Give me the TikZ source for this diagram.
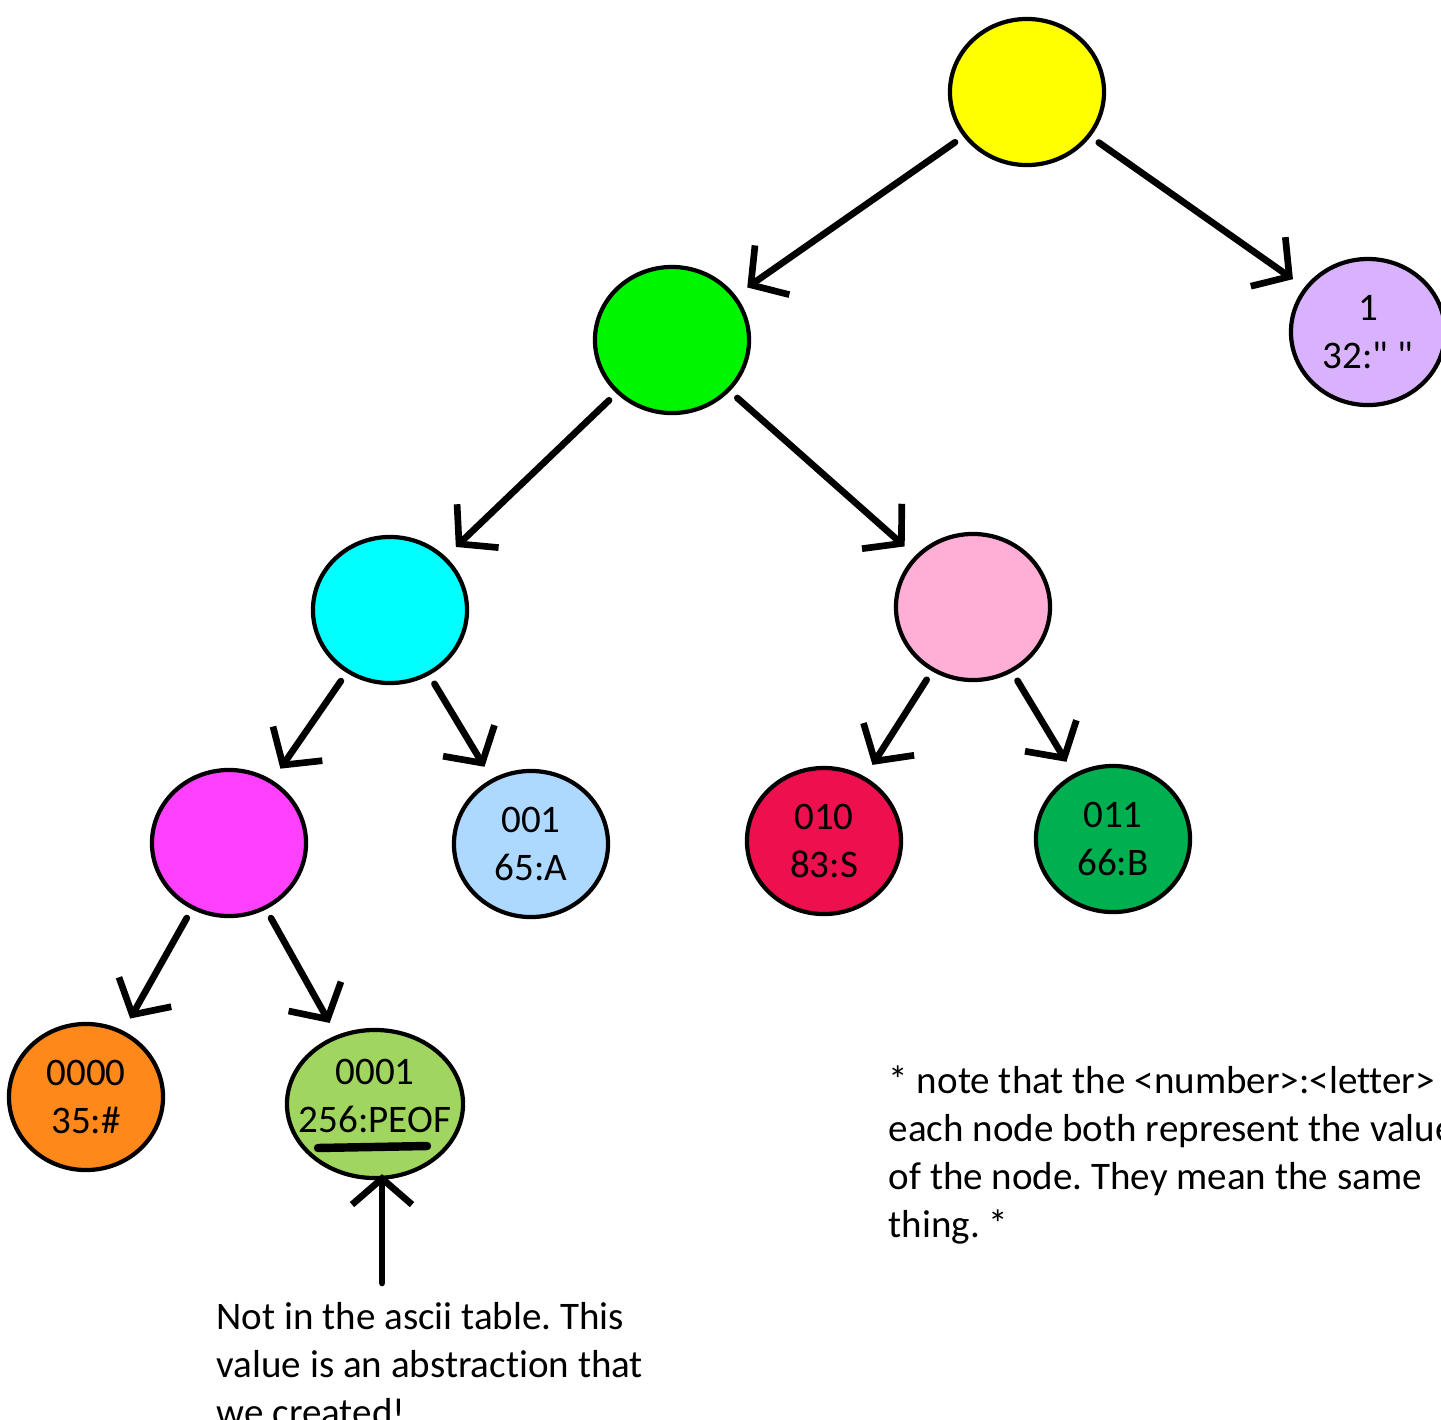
\documentclass[tikz,border=0pt]{standalone}
\usepackage{fontspec}
\setmainfont{Carlito}[Ligatures={NoCommon,TeXOff}]
\usetikzlibrary{shapes.geometric,arrows.meta}
\frenchspacing

\definecolor{rootyellow}{RGB}{255,255,0}
\definecolor{zerogreen}{RGB}{0,245,0}
\definecolor{spacepurple}{RGB}{216,178,252}
\definecolor{zerozerocyan}{RGB}{0,255,255}
\definecolor{zeroonepink}{RGB}{255,174,214}
\definecolor{hashparent}{RGB}{255,64,255}
\definecolor{aleaf}{RGB}{173,216,255}
\definecolor{sleaf}{RGB}{237,15,78}
\definecolor{bleaf}{RGB}{0,176,80}
\definecolor{hashleaf}{RGB}{255,136,26}
\definecolor{peofleaf}{RGB}{160,214,96}

\tikzset{
    hnode/.style={ellipse, draw=black, line width=1.2pt, minimum width=1.54cm, minimum height=1.46cm,
        inner sep=0pt, align=center, font=\fontsize{11.1}{13.66}\selectfont},
    edge/.style={line width=1.9pt, line cap=round, line join=round,
        -{Straight Barb[length=2.6mm,width=6mm]}, shorten <=0.1cm, shorten >=0.14cm},
    remark/.style={anchor=north west, align=left, inner sep=0pt, font=\fontsize{11.1}{13.66}\selectfont},
}

\begin{document}
\begin{tikzpicture}[x=0.01cm, y=-0.01cm]
    \useasboundingbox (0,0) rectangle (1441,1420);

    % huffman tree
    \node[hnode, fill=rootyellow] (root) at (1027,92) {};
    \node[hnode, fill=zerogreen] (n0) at (672,340) {};
    \node[hnode, fill=spacepurple] (space) at (1368,332) {1\\32:" "};
    \node[hnode, fill=zerozerocyan] (n00) at (390,610) {};
    \node[hnode, fill=zeroonepink] (n01) at (973,607) {};
    \node[hnode, fill=hashparent] (n000) at (229,843) {};
    \node[hnode, fill=aleaf] (a) at (531,844) {001\\65:A};
    \node[hnode, fill=sleaf] (s) at (824,841) {010\\83:S};
    \node[hnode, fill=bleaf] (b) at (1113,839) {011\\66:B};
    \node[hnode, fill=hashleaf] (hash) at (86,1097) {0000\\35:\#};
    \node[hnode, fill=peofleaf, inner xsep=-0.14cm, minimum width=1.76cm, minimum height=1.48cm] (peof) at (375,1104) {0001\\256:PEOF\\[-0.32cm]};

    \draw[edge] (root) -- (n0);
    \draw[edge] (root) -- (space);
    \draw[edge] (n0) -- (n00);
    \draw[edge] (n0) -- (n01);
    \draw[edge] (n00) -- (n000);
    \draw[edge] (n00) -- (a);
    \draw[edge] (n01) -- (s);
    \draw[edge] (n01) -- (b);
    \draw[edge] (n000) -- (hash);
    \draw[edge] (n000) -- (peof);

    % pseudo eof remark
    \draw[line width=2.4pt, line cap=round] (318,1148) -- (427,1146);
    \coordinate (peoftail) at (382,1283);
    \draw[edge, shorten <=0pt, shorten >=-0.06cm] (peoftail) -- (peoftail |- peof.south);
    \node[remark] (peofnote) at (216,1302) {Not in the ascii table. This\\value is an abstraction that\\we created!};

    \node[remark] (samenote) at (888,1065) {* note that the <number>:<letter>\\each node both represent the value\\of the node. They mean the same\\thing. *};
\end{tikzpicture}
\end{document}
